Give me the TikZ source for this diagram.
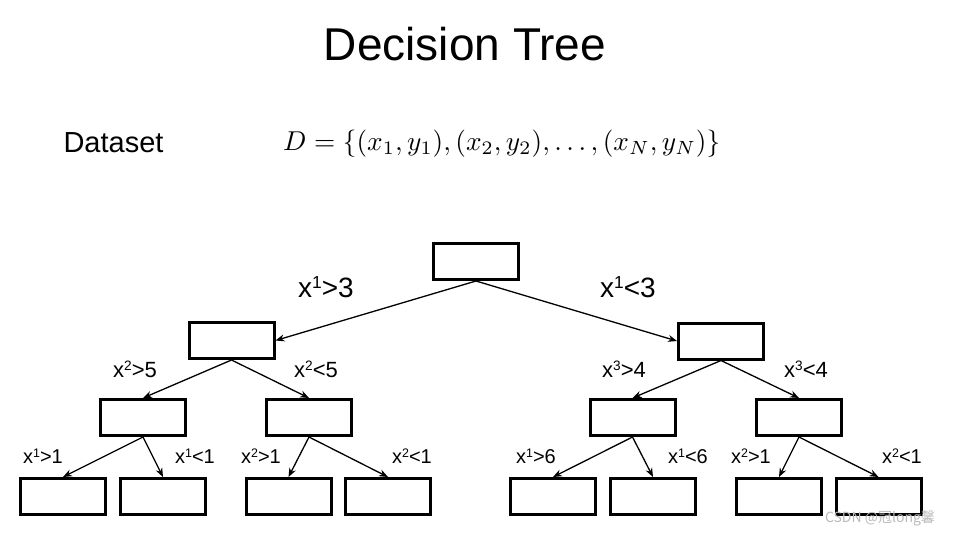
\documentclass[tikz,border=0pt]{standalone}
\usepackage[no-math]{fontspec}
\usepackage{amsmath}
\usepackage{graphicx}
\newfontfamily\arial{Liberation Sans}
\newfontfamily\cjk{Noto Sans CJK SC}
\usetikzlibrary{arrows.meta,positioning}

\newcommand\expo[1]{\raisebox{0.3em}{\scalebox{0.62}{#1}}}

\tikzset{
  split/.style={draw, line width=3pt, minimum width=85pt, minimum height=36pt, inner sep=0pt},
  branch/.style={-{Stealth[length=9pt,width=7pt]}, line width=1.3pt},
  condA/.style={anchor=base, font=\arial\fontsize{28}{30}\selectfont},
  condB/.style={anchor=base, font=\arial\fontsize{22}{24}\selectfont},
  condC/.style={anchor=base, font=\arial\fontsize{20}{22}\selectfont},
}

\begin{document}
\begin{tikzpicture}[x=1pt,y=-1pt]
    \useasboundingbox (0,0) rectangle (957,536);

    % Title and data
    \node[anchor=base, font=\arial\fontsize{46}{50}\selectfont] (title) at (465,60) {Decision Tree};
    \node[anchor=base west, font=\arial\fontsize{29}{32}\selectfont] (data) at (60,152) {Dataset};
    \node[anchor=base west, inner sep=0pt] (set) at (283,150)
        {\resizebox{437pt}{!}{$D=\{(x_1,y_1),(x_2,y_2),\ldots,(x_N,y_N)\}$}};

    % Boxes
    \node[split] (root) at (476,261.5) {};
    \foreach \name/\x/\y in {n1/231.5/340.5, n2/721/341,
                             n3/143/417.5, n4/309/417.5, n5/632.5/417.5, n6/799/417.5,
                             m1/63/496.5, m2/163/496.5, m3/288.5/496.5, m4/388/496.5,
                             m5/553/496.5, m6/653/496.5, m7/779/496.5, m8/878.5/496.5} {
        \node[split] (\name) at (\x,\y) {};
    }

    % Branches
    \draw[branch] (root.south) -- (n1.east);
    \draw[branch] (root.south) -- (n2.west);
    \foreach \a/\b in {n1/n3, n1/n4, n2/n5, n2/n6,
                       n3/m1, n3/m2, n4/m3, n4/m4,
                       n5/m5, n5/m6, n6/m7, n6/m8} {
        \draw[branch] (\a.south) -- (\b.north);
    }

    % Conditions
    \node[condA] (c1) at (326,297) {x\expo{1}>3};
    \node[condA] (c2) at (628,297) {x\expo{1}<3};
    \foreach \name/\x/\t in {c3/135/{x\expo{2}>5}, c4/316/{x\expo{2}<5},
                             c5/624/{x\expo{3}>4}, c6/806/{x\expo{3}<4}} {
        \node[condB] (\name) at (\x,377) {\t};
    }
    \foreach \name/\x/\t in {c7/43/{x\expo{1}>1}, c8/195/{x\expo{1}<1},
                             c9/261/{x\expo{2}>1}, c10/412/{x\expo{2}<1},
                             c11/536/{x\expo{1}>6}, c12/688/{x\expo{1}<6},
                             c13/751/{x\expo{2}>1}, c14/902/{x\expo{2}<1}} {
        \node[condC] (\name) at (\x,463) {\t};
    }

    % Watermark
    \node[anchor=base, font=\cjk\fontsize{14}{16}\selectfont, text=gray!55] (mark) at (880,522) {CSDN @冠long馨};
\end{tikzpicture}
\end{document}
